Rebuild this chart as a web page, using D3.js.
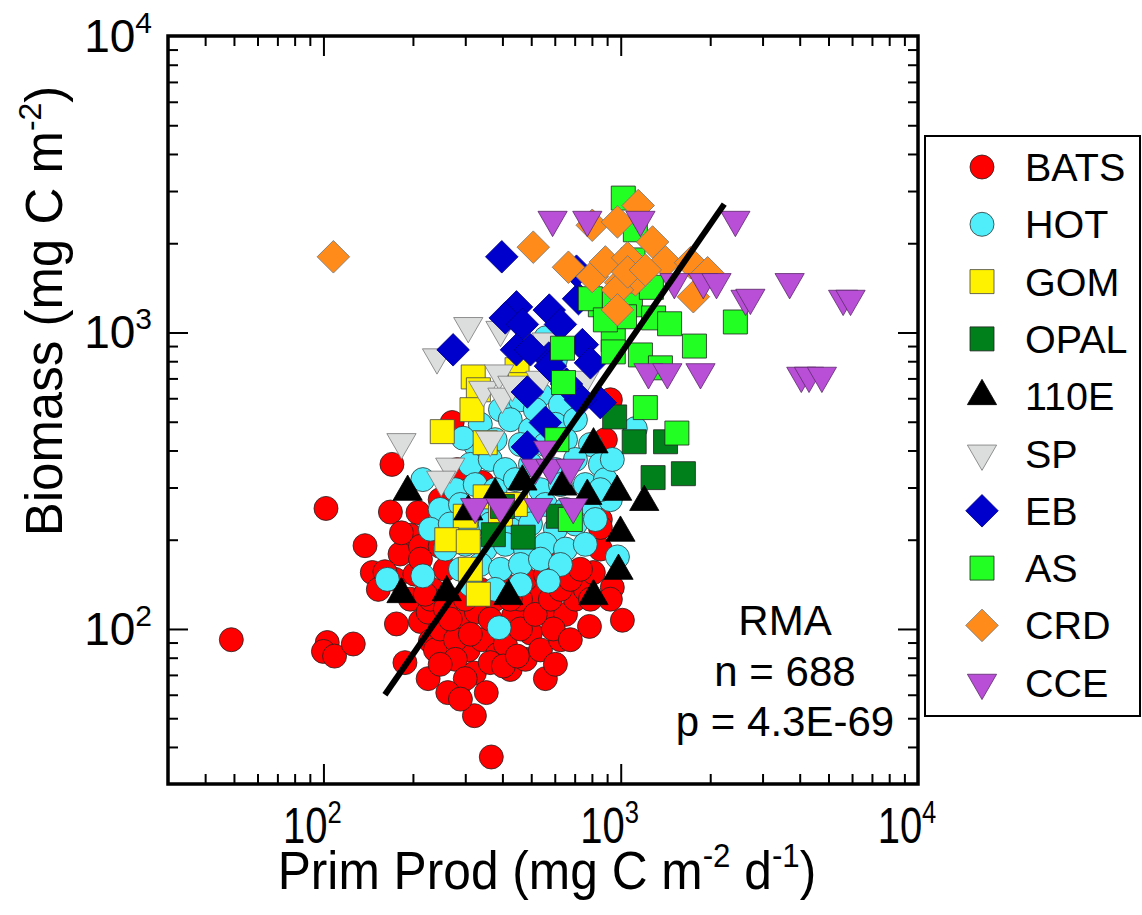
<!DOCTYPE html>
<html>
<head>
<meta charset="utf-8">
<script src="https://cdn.jsdelivr.net/npm/d3@7"></script>
<style>
  body { margin: 0; background: #fff; }
  text { font-family: "Liberation Sans", Arial, Helvetica, sans-serif; fill: #000; }
</style>
</head>
<body>
<svg id="chart"></svg>
<script>
// [prim prod, biomass] pairs
const bats = [[49,92],[102,255],[103,90],[100,84],[109,81],[126,89],[170,359],[168,248],[208,247],[196,207],[181,179],[212,190],[174,147],[196,126],[176,104],[212,106],[188,77],[225,68],[229,91],[238,85],[247,100],[225,114],[267,126],[203,153],[232,136],[257,159],[247,190],[289,106],[307,85],[322,71],[327,114],[342,92],[284,60],[322,51],[353,61],[367,37],[385,82],[409,89],[436,111],[497,97],[549,114],[524,133],[460,126],[425,73],[478,79],[537,85],[558,68],[603,76],[627,92],[652,112],[593,100],[704,126],[760,136],[785,102],[1013,107],[937,138],[854,186],[809,155],[923,126],[677,92],[364,77],[403,75],[449,81],[247,273],[271,497],[282,345],[923,593],[888,435],[342,312],[212,172],[229,126],[257,117],[278,92],[300,126],[337,136],[378,126],[409,141],[460,100],[516,112],[580,126],[627,136],[677,147],[732,159],[791,126],[278,79],[247,76],[300,68],[262,61],[289,58],[146,155],[161,156],[138,191],[153,136],[267,108],[312,96],[364,108],[425,126],[478,147],[558,153],[603,179],[220,131],[854,234],[854,220],[183,211]];
const hot = [[394,549],[460,593],[537,617],[627,570],[337,490],[425,508],[497,470],[603,490],[704,508],[324,418],[378,435],[460,419],[558,419],[652,435],[791,419],[312,359],[364,373],[409,345],[497,359],[603,345],[704,373],[854,359],[278,295],[324,307],[378,295],[442,319],[537,295],[627,307],[760,307],[888,319],[247,253],[289,263],[337,253],[394,263],[460,253],[558,263],[652,253],[791,263],[229,217],[267,226],[312,217],[364,226],[425,217],[497,226],[603,217],[704,226],[822,234],[257,186],[300,193],[350,186],[409,193],[478,186],[558,193],[652,186],[760,193],[289,159],[337,165],[394,159],[460,165],[537,172],[627,165],[312,141],[378,136],[460,141],[560,960],[603,809],[516,549],[478,641],[923,273],[937,373],[854,295],[164,147],[216,151],[216,319],[295,440],[390,101],[571,145],[975,175],[1120,474]];
const gom = [[319,708],[332,641],[316,549],[251,463],[350,425],[448,749],[460,667],[300,240],[260,200],[307,197],[312,159],[332,131],[350,279],[442,263],[394,244]];
const opal = [[954,519],[1110,428],[1415,428],[1285,324],[1625,334],[373,208],[470,204],[400,259],[617,240]];
const e110 = [[192,290],[307,249],[378,284],[467,314],[637,302],[772,281],[973,290],[1200,268],[810,419],[998,211],[983,157],[810,129],[419,129],[260,133],[183,131]];
const sp = [[183,427],[241,825],[307,1052],[394,1021],[345,641],[390,728],[400,608],[432,667],[364,435],[267,353],[249,319],[537,693],[563,933],[755,693]];
const eb = [[398,1800],[446,1220],[409,1120],[467,1065],[575,1190],[627,1065],[721,1300],[710,1610],[273,874],[446,874],[573,820],[743,910],[791,790],[485,630],[854,580],[558,497],[485,411],[732,593],[497,874],[580,770],[657,670]];
const as = [[1020,2840],[1120,2220],[1100,1757],[854,1240],[950,1288],[1078,1240],[1268,1420],[1290,1120],[1460,1070],[1770,900],[2430,1085],[637,885],[944,945],[944,860],[1165,840],[1360,760],[642,678],[1210,558],[1545,458],[677,234],[1030,1130],[790,1300],[888,1103],[610,435]];
const crd = [[108,1800],[508,1940],[667,1660],[802,1545],[802,2300],[975,2360],[1145,2680],[1280,2020],[1415,1730],[1717,1720],[1960,1590],[1755,1320],[888,1730],[1055,1785],[998,1475],[1120,1504],[975,1392],[975,1192],[1055,1600],[1210,1626]];
const cce = [[590,2400],[772,2400],[1165,2400],[2430,2400],[1515,1480],[1895,1480],[2100,1480],[2630,1300],[2730,1310],[3700,1480],[5600,1300],[5930,1300],[1240,735],[1435,735],[1855,735],[4050,715],[4300,715],[4750,715],[570,403],[516,350],[580,350],[677,350],[324,258],[394,258],[528,258],[692,258]];

const seriesNames = ["BATS", "HOT", "GOM", "OPAL", "110E", "SP", "EB", "AS", "CRD", "CCE"];
const seriesData = [bats, hot, gom, opal, e110, sp, eb, as, crd, cce];
const seriesFill = ["#ff0000", "#50eefa", "#fff200", "#00801a", "#000000", "#dcdddd", "#0000cc", "#22ff22", "#ff8c1a", "#b84fd6"];
const seriesStroke = ["#222", "#333", "#444", "#222", "#000", "#777", "#00008a", "#222", "#777", "#5a2a6a"];
const seriesShape = ["circle", "circle", "square", "square", "triangle", "triangleDown", "diamond", "square", "diamond", "triangleDown"];

const rmaLine = [[161, 60], [2230, 2710]];
const annotation = ["RMA", "n = 688", "p = 4.3E-69"];
const majorTicks = [100, 1000, 10000];

const width = 1142, height = 915;
const svg = d3.select("#chart").attr("width", width).attr("height", height);

const plot = { left: 168, right: 918, top: 36, bottom: 784 };
const x = d3.scaleLog().domain([30, 10000]).range([plot.left, plot.right]);
const y = d3.scaleLog().domain([30, 10000]).range([plot.bottom, plot.top]);

const isPow10 = v => Math.abs(Math.log10(v) - Math.round(Math.log10(v))) < 1e-9;
const minorX = x.ticks().filter(v => !isPow10(v) && v > 30);
const minorY = y.ticks().filter(v => !isPow10(v) && v > 30);

const symbolPath = shape => {
    if (shape === "circle") return d3.symbol(d3.symbolCircle, Math.PI * 12 * 12)();
    if (shape === "square") return d3.symbol(d3.symbolSquare, 24 * 24)();
    if (shape === "diamond") return d3.symbol(d3.symbolSquare, 23 * 23)();
    return d3.symbol(d3.symbolTriangle, 370)();
};
const symbolRotate = shape => shape === "diamond" ? 45 : shape === "triangleDown" ? 180 : 0;

// Points
seriesData.forEach((data, i) => {
    svg.append("g")
        .selectAll("path")
        .data(data)
        .join("path")
        .attr("d", symbolPath(seriesShape[i]))
        .attr("transform", d => `translate(${x(d[0])},${y(d[1])}) rotate(${symbolRotate(seriesShape[i])})`)
        .attr("fill", seriesFill[i])
        .attr("stroke", seriesStroke[i])
        .attr("stroke-width", 0.8);
});

// RMA fit
svg.append("line")
    .attr("x1", x(rmaLine[0][0])).attr("y1", y(rmaLine[0][1]))
    .attr("x2", x(rmaLine[1][0])).attr("y2", y(rmaLine[1][1]))
    .attr("stroke", "#000")
    .attr("stroke-width", 6);

// Ticks, all pointing inward
const drawTicks = (axis, values, size, transform) => {
    svg.append("g")
        .attr("transform", transform)
        .call(axis.tickValues(values).tickSize(size).tickFormat(""))
        .call(g => g.select(".domain").remove())
        .selectAll("line")
        .attr("stroke", "#000")
        .attr("stroke-width", 2);
};
drawTicks(d3.axisBottom(x), minorX, -10, `translate(0,${plot.bottom})`);
drawTicks(d3.axisBottom(x), majorTicks.slice(0, 2), -20, `translate(0,${plot.bottom})`);
drawTicks(d3.axisTop(x), minorX, -10, `translate(0,${plot.top})`);
drawTicks(d3.axisTop(x), majorTicks.slice(0, 2), -20, `translate(0,${plot.top})`);
drawTicks(d3.axisLeft(y), minorY, -10, `translate(${plot.left},0)`);
drawTicks(d3.axisLeft(y), majorTicks.slice(0, 2), -20, `translate(${plot.left},0)`);
drawTicks(d3.axisRight(y), minorY, -10, `translate(${plot.right},0)`);
drawTicks(d3.axisRight(y), majorTicks.slice(0, 2), -20, `translate(${plot.right},0)`);

svg.append("rect")
    .attr("x", plot.left).attr("y", plot.top)
    .attr("width", plot.right - plot.left).attr("height", plot.bottom - plot.top)
    .attr("fill", "none")
    .attr("stroke", "#000")
    .attr("stroke-width", 3.5);

// Tick labels: 10^n
const powLabel = (sel, v, sup, rise) => {
    sel.append("tspan").text("10");
    sel.append("tspan").attr("dy", -rise).attr("font-size", sup).text(Math.round(Math.log10(v)));
};
majorTicks.forEach(v => {
    // bottom labels are set narrower, as in the reference
    const t = svg.append("text")
        .attr("transform", `translate(${x(v) - 11},843) scale(0.8,1)`)
        .attr("text-anchor", "middle")
        .attr("font-size", 50);
    powLabel(t, v, 32, 20);
    const ty = svg.append("text")
        .attr("x", 152)
        .attr("y", y(v) + 16)
        .attr("text-anchor", "end")
        .attr("font-size", 46);
    powLabel(ty, v, 30, 19);
});

// Axis titles
const xTitle = svg.append("text")
    .attr("transform", "translate(547,889) scale(0.92,1)")
    .attr("text-anchor", "middle")
    .attr("font-size", 54);
xTitle.append("tspan").text("Prim Prod (mg C m");
xTitle.append("tspan").attr("dy", -22).attr("font-size", 34).text("-2");
xTitle.append("tspan").attr("dy", 22).text(" d");
xTitle.append("tspan").attr("dy", -22).attr("font-size", 34).text("-1");
xTitle.append("tspan").attr("dy", 22).text(")");

const yTitle = svg.append("text")
    .attr("transform", "translate(62,311) rotate(-90)")
    .attr("text-anchor", "middle")
    .attr("font-size", 51);
yTitle.append("tspan").text("Biomass (mg C m");
yTitle.append("tspan").attr("dy", -21).attr("font-size", 32).text("-2");
yTitle.append("tspan").attr("dy", 21).text(")");

// Annotation
svg.append("g")
    .selectAll("text")
    .data(annotation)
    .join("text")
    .attr("x", 785)
    .attr("y", (d, i) => 635 + i * 50.5)
    .attr("text-anchor", "middle")
    .attr("font-size", 42)
    .text(d => d);

// Legend
const legend = svg.append("g");
legend.append("rect")
    .attr("x", 925).attr("y", 136)
    .attr("width", 215).attr("height", 580)
    .attr("fill", "#fff")
    .attr("stroke", "#000")
    .attr("stroke-width", 2);

const legendRow = legend.selectAll(".legend-row")
    .data(seriesNames)
    .join("g")
    .attr("class", "legend-row")
    .attr("transform", (d, i) => `translate(0,${167 + i * 57.3})`);

legendRow.append("path")
    .attr("d", (d, i) => symbolPath(seriesShape[i]))
    .attr("transform", (d, i) => `translate(982,0) rotate(${symbolRotate(seriesShape[i])})`)
    .attr("fill", (d, i) => seriesFill[i])
    .attr("stroke", (d, i) => seriesStroke[i])
    .attr("stroke-width", 0.8);

legendRow.append("text")
    .attr("x", 1025)
    .attr("y", 14)
    .attr("font-size", 39.5)
    .text(d => d);
</script>
</body>
</html>
